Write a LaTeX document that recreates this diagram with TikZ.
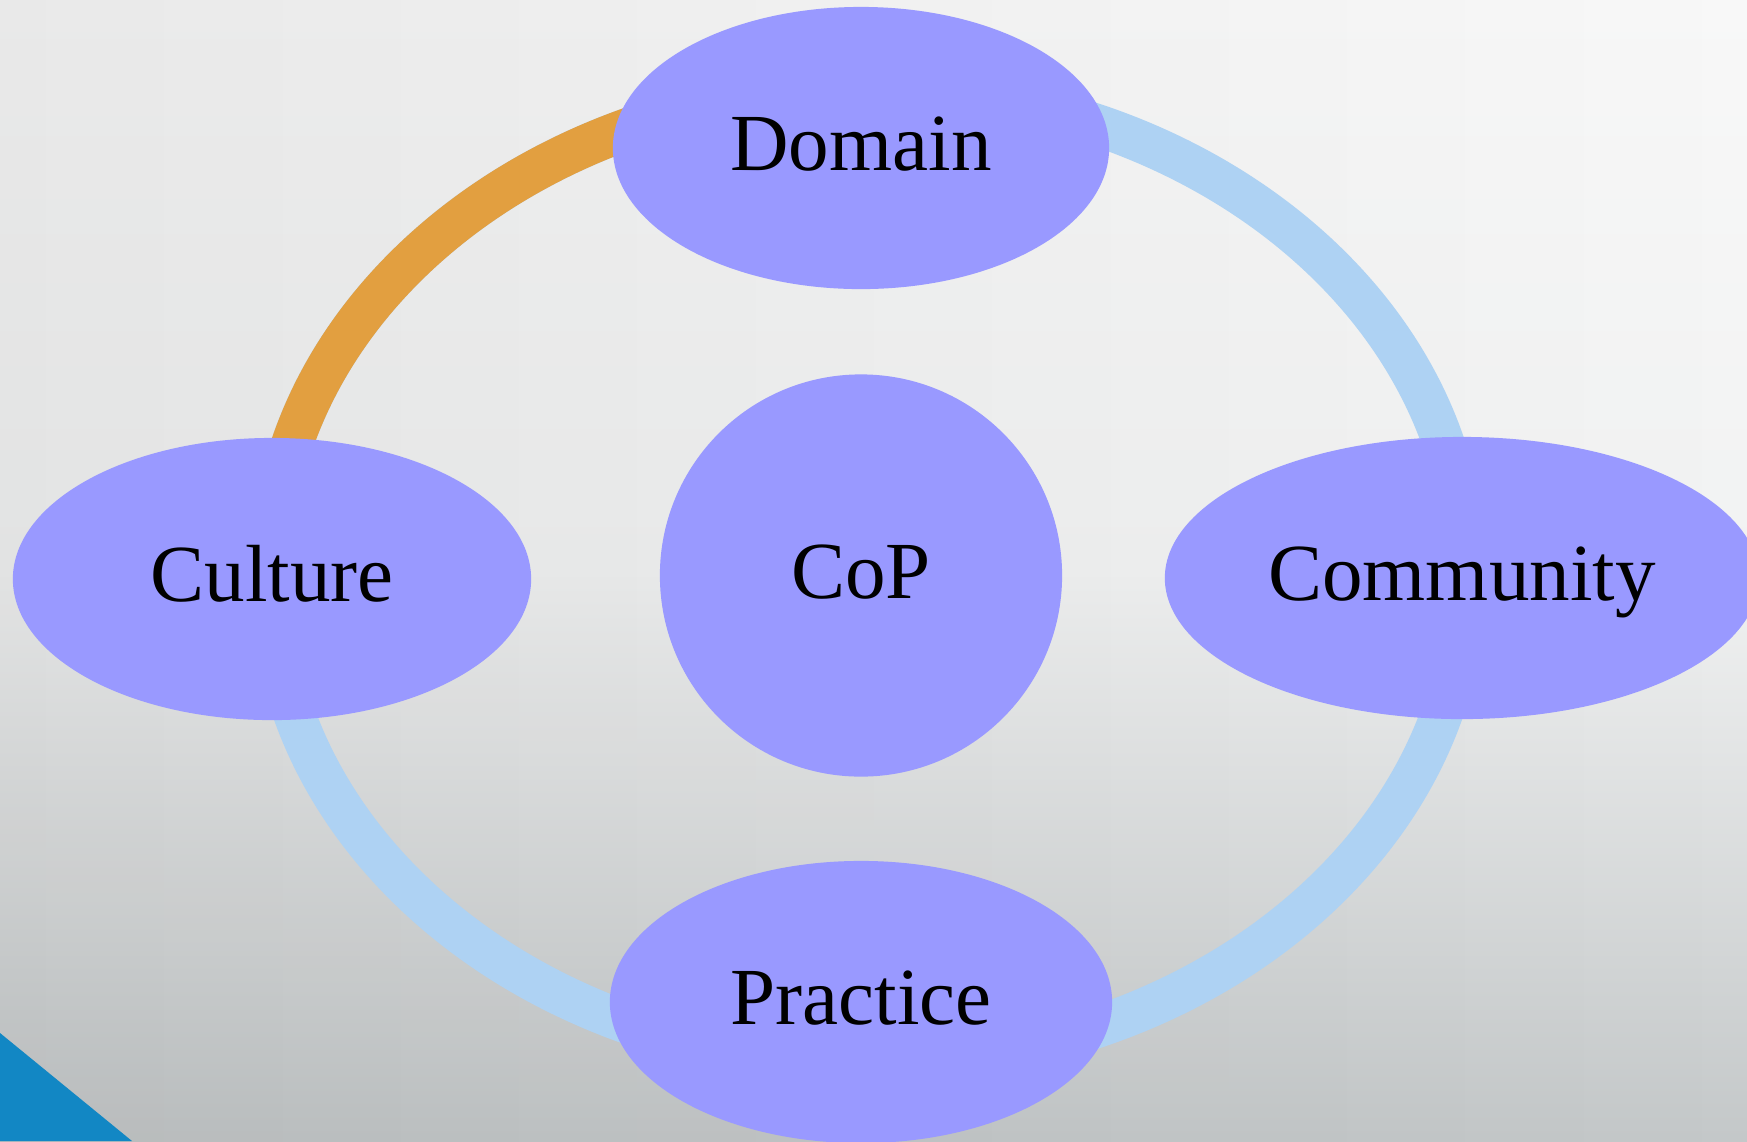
\documentclass[tikz,border=0pt]{standalone}
\usepackage{fontspec}
\setmainfont{Liberation Serif}
\usetikzlibrary{shapes.geometric, fadings}

\definecolor{nodefill}{HTML}{9999FF}
\definecolor{ringblue}{HTML}{AED2F3}
\definecolor{ringorange}{HTML}{E29F40}
\definecolor{cornerblue}{HTML}{1287C4}
\definecolor{bgtop}{HTML}{F8F8F8}
\definecolor{bgmid}{HTML}{F1F2F2}
\definecolor{bgbottom}{HTML}{C3C7C8}

\tikzfading[name=leftshade, left color=transparent!0, right color=transparent!100]

\tikzset{
  bubble/.style={ellipse, fill=nodefill, inner sep=0pt,
    text height=0.45cm, text depth=0cm,
    font=\fontsize{23.05pt}{28pt}\selectfont},
  hub/.style={circle, fill=nodefill, inner sep=0pt,
    text height=0.45cm, text depth=0cm,
    font=\fontsize{23.05pt}{28pt}\selectfont},
  ring/.style={line width=0.42cm},
}

\begin{document}
\begin{tikzpicture}[x=0.01cm, y=-0.01cm]
\useasboundingbox (0,0) rectangle (1747,1141);

% background: light upper half, darkening towards the bottom, a touch darker on the left
\begin{scope}
  \clip (0,0) rectangle (1747,1141);
  \shade[top color=bgtop, bottom color=bgmid] (-10,-10) rectangle (1757,575);
  \shade[top color=bgmid, bottom color=bgbottom] (-10,570) rectangle (1757,1151);
  \fill[black, opacity=0.06, path fading=leftshade] (-10,-10) rectangle (1757,1151);
  % corner accent
  \fill[cornerblue] (0,1033) -- (132,1141) -- (0,1141) -- cycle;
\end{scope}

% cycle ring: blue all round, orange between Culture and Domain
\coordinate (ringc) at (868,576);
\draw[ring, ringblue] (ringc) ellipse [x radius=598, y radius=488];
\begin{scope}
  \clip (0,0) rectangle (868,576);
  \draw[ring, ringorange] (ringc) ellipse [x radius=598, y radius=488];
\end{scope}

% nodes
\node[bubble, minimum width=4.96cm, minimum height=2.82cm] (domain) at (861,148) {Domain};
\node[bubble, minimum width=5.18cm, minimum height=2.82cm] (culture) at (272,579) {Culture};
\node[bubble, minimum width=5.94cm, minimum height=2.82cm] (community) at (1462,578) {Community};
\node[bubble, minimum width=5.02cm, minimum height=2.82cm] (practice) at (861,1002) {Practice};
\node[hub, minimum size=4.02cm] (cop) at (861,575.5) {CoP};
\end{tikzpicture}
\end{document}
